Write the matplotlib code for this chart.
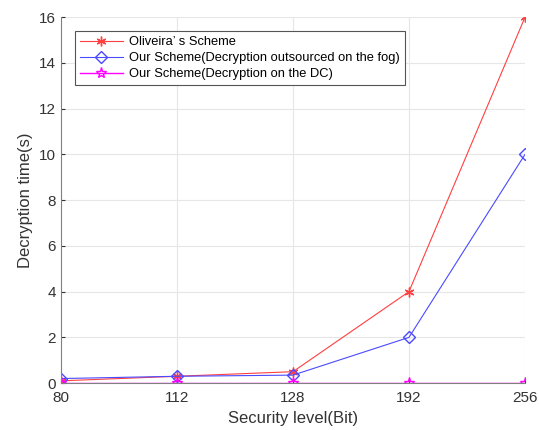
import matplotlib
matplotlib.use("Agg")
import matplotlib.pyplot as plt

plt.rcParams['font.family'] = ['Liberation Sans', 'DejaVu Sans']

levels = ["80", "112", "128", "192", "256"]
oliveira = [0.1, 0.3, 0.5, 4.0, 16.0]
fog = [0.2, 0.3, 0.35, 2.0, 10.0]
dc = [0.02, 0.02, 0.02, 0.02, 0.02]

fig = plt.figure(figsize=(5.39, 4.30), dpi=100)
ax = fig.add_axes([0.113, 0.109, 0.861, 0.851])
x = list(range(len(levels)))

ax.plot(x, oliveira, color='#ff4040', marker=(6, 2, 0), markersize=7, lw=0.8,
        label="Oliveira’ s Scheme")
ax.plot(x, fog, color='#4a4aff', marker='D', markersize=6, mfc='none', lw=0.8,
        label="Our Scheme(Decryption outsourced on the fog)")
ax.plot(x, dc, color='#ff00ff', marker='*', markersize=8, mfc='none', lw=1.0,
        label="Our Scheme(Decryption on the DC)")

ax.set_xlim(0, len(levels) - 1)
ax.set_ylim(0, 16)
ax.set_xticks(x)
ax.set_xticklabels(levels)
ax.set_yticks(range(0, 17, 2))
ax.grid(True, color='#e6e6e6', lw=0.8)
ax.set_axisbelow(True)
for s in ['top', 'right']:
    ax.spines[s].set_visible(False)
ax.spines['left'].set_color('#808080')
ax.spines['bottom'].set_color('#808080')
ax.tick_params(labelsize=11, colors='#333333', direction='in', length=3)
ax.tick_params(axis='x', pad=6)
ax.set_xlabel("Security level(Bit)", fontsize=12, color='#333333')
ax.set_ylabel("Decryption time(s)", fontsize=12, color='#333333')

leg = ax.legend(loc='upper left', bbox_to_anchor=(0.030, 0.962), fontsize=9.3,
                fancybox=False, edgecolor='#555555', framealpha=1,
                borderpad=0.4, handlelength=3.3, labelspacing=0.3, handletextpad=0.5,
                borderaxespad=0)
leg.get_frame().set_linewidth(0.8)

fig.savefig("out.png", dpi=100)
